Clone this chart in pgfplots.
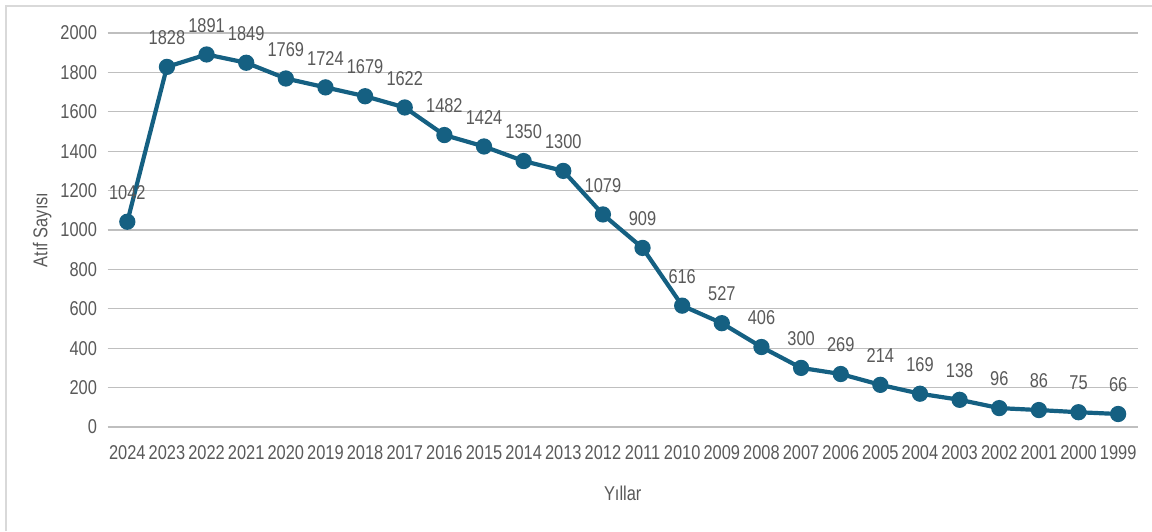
\documentclass[border=0pt]{standalone}
\usepackage{fontspec}
\setmainfont{Liberation Sans}[FakeStretch=0.82]
\usepackage{pgfplots}
\pgfplotsset{compat=1.18}
\definecolor{linec}{HTML}{156082}
\definecolor{txt}{HTML}{595959}
\definecolor{grid}{HTML}{D9D9D9}
\begin{document}
\begin{tikzpicture}
\path[use as bounding box] (0,0) rectangle (1152pt,531pt);
\draw[grid, line width=1.5pt] (6pt,0) -- (6pt,525pt) -- (1152pt,525pt);
\begin{axis}[
  at={(107.5pt,104pt)}, anchor=south west,
  scale only axis, width=1030.5pt, height=394pt,
  xmin=-0.5, xmax=25.5, ymin=0, ymax=2000,
  axis line style={draw=none},
  tick style={draw=none},
  ytick={0,200,...,2000},
  ymajorgrids, xmajorgrids=false, grid style={grid, line width=1.2pt},
  xtick={0,...,25},
  xticklabels={2024,2023,2022,2021,2020,2019,2018,2017,2016,2015,2014,2013,2012,2011,2010,2009,2008,2007,2006,2005,2004,2003,2002,2001,2000,1999},
  /pgf/number format/assume math mode=true,
  /pgf/number format/.cd, 1000 sep={}, /pgfplots/.cd,
  ticklabel style={font=\fontsize{20}{20}\selectfont, text=txt},
  yticklabel style={xshift=-7pt},
  xticklabel style={yshift=-15pt},
  xlabel={Yıllar}, ylabel={Atıf Sayısı},
  label style={font=\fontsize{20}{20}\selectfont, text=txt},
  xlabel style={yshift=-19pt},
  ylabel style={yshift=2pt},
  clip=false,
]
\addplot[linec, line width=4.2pt, mark=*, mark size=6pt,
  nodes near coords,
  every node near coord/.append style={font=\fontsize{20}{20}\selectfont, text=txt, anchor=south, inner sep=0pt, yshift=20pt},
] coordinates {
(0,1042)(1,1828)(2,1891)(3,1849)(4,1769)(5,1724)(6,1679)(7,1622)(8,1482)(9,1424)(10,1350)(11,1300)(12,1079)(13,909)(14,616)(15,527)(16,406)(17,300)(18,269)(19,214)(20,169)(21,138)(22,96)(23,86)(24,75)(25,66)
};
\end{axis}
\end{tikzpicture}
\end{document}
